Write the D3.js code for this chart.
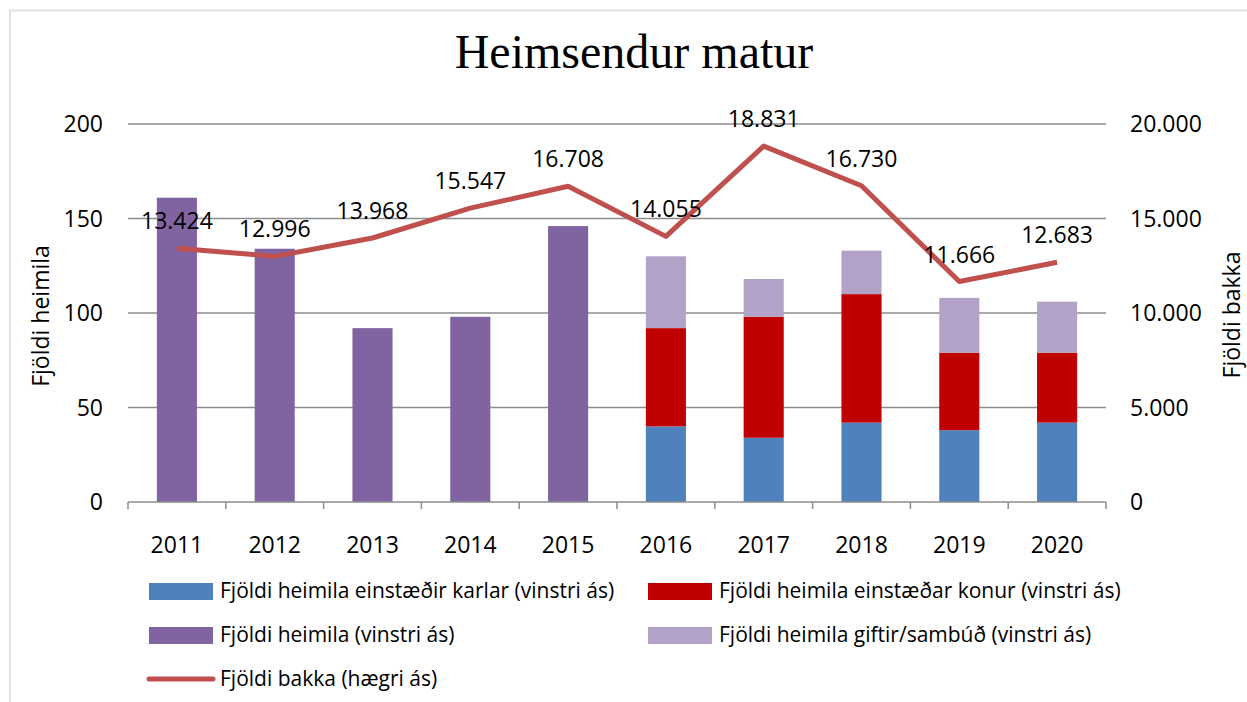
<!DOCTYPE html>
<html>
<head>
<meta charset="utf-8">
<script src="https://cdn.jsdelivr.net/npm/d3@7"></script>
<style>
  body { margin: 0; background: #fff; }
  text { font-family: "Open Sans", "Noto Sans", sans-serif; fill: #000; }
</style>
</head>
<body>
<svg id="chart"></svg>
<script>
const years = ["2011", "2012", "2013", "2014", "2015", "2016", "2017", "2018", "2019", "2020"];
const totalHomes = [161, 134, 92, 98, 146, null, null, null, null, null];
const singleMen = [null, null, null, null, null, 40, 34, 42, 38, 42];
const singleWomen = [null, null, null, null, null, 52, 64, 68, 41, 37];
const married = [null, null, null, null, null, 38, 20, 23, 29, 27];
const trays = [13424, 12996, 13968, 15547, 16708, 14055, 18831, 16730, 11666, 12683];
const leftTicks = [0, 50, 100, 150, 200];
const rightTicks = [0, 5000, 10000, 15000, 20000];

const width = 1247, height = 702;
const margin = { left: 128, right: 1106, top: 124, bottom: 502 };

const colors = {
    men: "#4F81BD",
    women: "#C00000",
    total: "#8064A2",
    married: "#B3A2C7",
    line: "#C0504D"
};

const svg = d3.select("#chart")
    .attr("width", width)
    .attr("height", height)
    .attr("viewBox", [0, 0, width, height]);

// chart frame (only top and left edges are visible)
svg.append("path")
    .attr("d", `M10,${height} V10.5 H${width}`)
    .attr("fill", "none")
    .attr("stroke", "#e2e2e2")
    .attr("stroke-width", 2);

const x = d3.scaleBand()
    .domain(years)
    .range([margin.left, margin.right])
    .paddingInner(0.59)
    .paddingOuter(0.295);

const yLeft = d3.scaleLinear().domain([0, 200]).range([margin.bottom, margin.top]);
const yRight = d3.scaleLinear().domain([0, 20000]).range([margin.bottom, margin.top]);

const fmt = d3.formatLocale({ decimal: ",", thousands: ".", grouping: [3], currency: ["", " kr."] }).format(",d");

// gridlines
svg.append("g")
    .selectAll("line")
    .data(leftTicks.filter(d => d > 0))
    .enter()
    .append("line")
    .attr("x1", margin.left).attr("x2", margin.right)
    .attr("y1", d => yLeft(d)).attr("y2", d => yLeft(d))
    .attr("stroke", "#8c8c8c")
    .attr("stroke-width", 1.5);

// left ticks
svg.append("g")
    .selectAll("text")
    .data(leftTicks)
    .enter()
    .append("text")
    .attr("x", 103)
    .attr("y", d => yLeft(d))
    .attr("dy", "0.35em")
    .attr("text-anchor", "end")
    .attr("font-size", 23)
    .text(d => d);

// right ticks
svg.append("g")
    .selectAll("text")
    .data(rightTicks)
    .enter()
    .append("text")
    .attr("x", 1130)
    .attr("y", d => yRight(d))
    .attr("dy", "0.35em")
    .attr("text-anchor", "start")
    .attr("font-size", 23)
    .text(d => fmt(d));

// bars: totals 2011-2015
svg.append("g")
    .selectAll("rect")
    .data(years.map((y, i) => ({ year: y, v: totalHomes[i] })).filter(d => d.v !== null))
    .enter()
    .append("rect")
    .attr("x", d => x(d.year))
    .attr("width", x.bandwidth())
    .attr("y", d => yLeft(d.v))
    .attr("height", d => yLeft(0) - yLeft(d.v))
    .attr("fill", colors.total);

// stacked bars 2016-2020
const stackData = years.map((y, i) => ({ year: y, men: singleMen[i], women: singleWomen[i], married: married[i] }))
    .filter(d => d.men !== null);
const stack = d3.stack().keys(["men", "women", "married"])(stackData);

svg.append("g")
    .selectAll("g")
    .data(stack)
    .enter()
    .append("g")
    .attr("fill", d => colors[d.key])
    .selectAll("rect")
    .data(d => d)
    .enter()
    .append("rect")
    .attr("x", d => x(d.data.year))
    .attr("width", x.bandwidth())
    .attr("y", d => yLeft(d[1]))
    .attr("height", d => yLeft(d[0]) - yLeft(d[1]));

// baseline + ticks
svg.append("line")
    .attr("x1", margin.left).attr("x2", margin.right)
    .attr("y1", margin.bottom).attr("y2", margin.bottom)
    .attr("stroke", "#8c8c8c")
    .attr("stroke-width", 1.5);

svg.append("g")
    .selectAll("line")
    .data(d3.range(years.length + 1))
    .enter()
    .append("line")
    .attr("x1", i => margin.left + i * x.step())
    .attr("x2", i => margin.left + i * x.step())
    .attr("y1", margin.bottom).attr("y2", margin.bottom + 7)
    .attr("stroke", "#8c8c8c")
    .attr("stroke-width", 1.5);

svg.append("g")
    .selectAll("text")
    .data(years)
    .enter()
    .append("text")
    .attr("x", d => x(d) + x.bandwidth() / 2)
    .attr("y", 545)
    .attr("dy", "0.35em")
    .attr("text-anchor", "middle")
    .attr("font-size", 23)
    .text(d => d);

// line
const line = d3.line()
    .x((d, i) => x(years[i]) + x.bandwidth() / 2)
    .y(d => yRight(d));

svg.append("path")
    .datum(trays)
    .attr("d", line)
    .attr("fill", "none")
    .attr("stroke", colors.line)
    .attr("stroke-width", 5)
    .attr("stroke-linejoin", "round");

svg.append("g")
    .selectAll("text")
    .data(trays)
    .enter()
    .append("text")
    .attr("x", (d, i) => x(years[i]) + x.bandwidth() / 2)
    .attr("y", d => yRight(d) - 19)
    .attr("text-anchor", "middle")
    .attr("font-size", 23)
    .text(d => fmt(d));

// title
svg.append("text")
    .attr("x", 634)
    .attr("y", 68)
    .attr("text-anchor", "middle")
    .attr("font-size", 48)
    .style("font-family", "'Liberation Serif', 'DejaVu Serif', serif")
    .text("Heimsendur matur");

// axis titles
svg.append("text")
    .attr("transform", "translate(49,316) rotate(-90)")
    .attr("text-anchor", "middle")
    .attr("font-size", 23)
    .text("Fjöldi heimila");

svg.append("text")
    .attr("transform", "translate(1240,315) rotate(-90)")
    .attr("text-anchor", "middle")
    .attr("font-size", 23)
    .text("Fjöldi bakka");

// legend
const legendItems = [
    { label: "Fjöldi heimila einstæðir karlar (vinstri ás)", color: colors.men, type: "rect", col: 0, row: 0 },
    { label: "Fjöldi heimila einstæðar konur (vinstri ás)", color: colors.women, type: "rect", col: 1, row: 0 },
    { label: "Fjöldi heimila (vinstri ás)", color: colors.total, type: "rect", col: 0, row: 1 },
    { label: "Fjöldi heimila giftir/sambúð (vinstri ás)", color: colors.married, type: "rect", col: 1, row: 1 },
    { label: "Fjöldi bakka (hægri ás)", color: colors.line, type: "line", col: 0, row: 2 }
];

const legend = svg.append("g")
    .selectAll("g")
    .data(legendItems)
    .enter()
    .append("g")
    .attr("transform", d => `translate(${d.col === 0 ? 149 : 648},${591 + d.row * 44})`);

legend.filter(d => d.type === "rect")
    .append("rect")
    .attr("x", 0).attr("y", -8)
    .attr("width", 64).attr("height", 17)
    .attr("fill", d => d.color);

legend.filter(d => d.type === "line")
    .append("line")
    .attr("x1", 0).attr("x2", 64)
    .attr("y1", 0).attr("y2", 0)
    .attr("stroke", d => d.color)
    .attr("stroke-width", 5)
    .attr("stroke-linecap", "round");

legend.append("text")
    .attr("x", 71)
    .attr("y", 0)
    .attr("dy", "0.35em")
    .attr("font-size", 21)
    .text(d => d.label);
</script>
</body>
</html>
